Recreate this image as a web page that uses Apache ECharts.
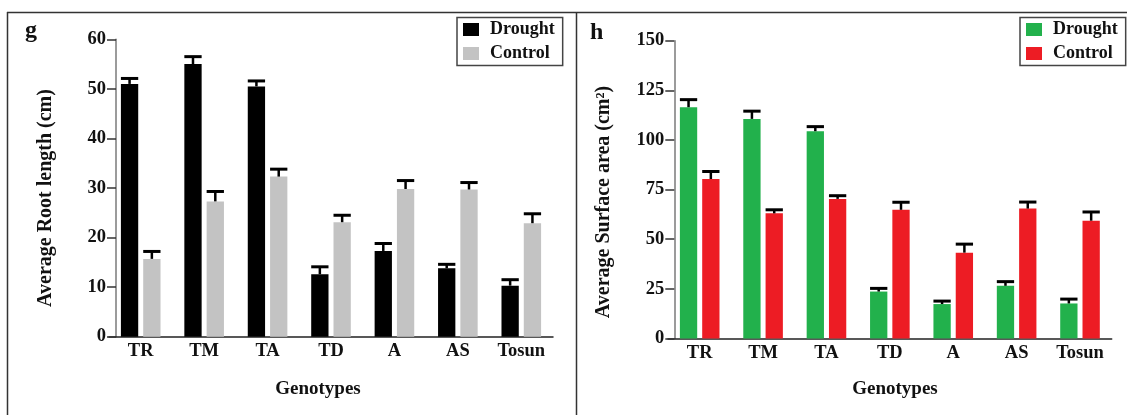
<!DOCTYPE html>
<html>
<head>
<meta charset="utf-8">
<script src="https://cdn.jsdelivr.net/npm/echarts@6/dist/echarts.min.js"></script>
<style>
html,body{margin:0;padding:0;background:#fff;}
#chart{width:1127px;height:415px;}
</style>
</head>
<body>
<div id="chart"></div>
<script>
// ---- data ----
const categories = ['TR', 'TM', 'TA', 'TD', 'A', 'AS', 'Tosun'];
const seriesNames = ['Drought', 'Control'];

// panel g: Average Root length (cm)
const rootDrought    = [51.0, 55.0, 50.5, 12.6, 17.3, 13.8, 10.3];
const rootDroughtErr = [1.1, 1.5, 1.1, 1.5, 1.5, 0.8, 1.2];
const rootControl    = [15.7, 27.3, 32.3, 23.1, 29.8, 29.7, 22.9];
const rootControlErr = [1.5, 2.0, 1.5, 1.4, 1.7, 1.4, 1.9];

// panel h: Average Surface area (cm2)
const areaDrought    = [116.5, 110.6, 104.4, 23.6, 17.3, 26.5, 17.6];
const areaDroughtErr = [3.8, 3.9, 2.3, 1.6, 1.5, 2.1, 2.2];
const areaControl    = [80.3, 63.0, 70.3, 64.8, 43.2, 65.4, 59.3];
const areaControlErr = [3.8, 1.8, 1.6, 3.8, 4.3, 3.3, 4.4];

const rootTicks = [0, 10, 20, 30, 40, 50, 60];
const areaTicks = [0, 25, 50, 75, 100, 125, 150];

// ---- styling ----
const FONT = '"Liberation Serif", "Times New Roman", serif';
const BAR_W = 17.3;
const GAP = 5;
const OFF = (BAR_W + GAP) / 2;

function errSeries(values, errs, offset, xi) {
  return {
    type: 'custom',
    name: 'err' + xi + offset,
    xAxisIndex: xi, yAxisIndex: xi,
    z: 5,
    silent: true,
    data: categories.map((c, i) => [i, values[i], errs[i]]),
    encode: { x: 0, y: 1 },
    renderItem: function (params, api) {
      const i = api.value(0), v = api.value(1), e = api.value(2);
      const b = api.coord([i, v]);
      const t = api.coord([i, v + e]);
      const cx = b[0] + offset;
      return {
        type: 'group',
        children: [
          { type: 'line', shape: { x1: cx, y1: b[1], x2: cx, y2: t[1] }, style: { stroke: '#000', lineWidth: 2.5 } },
          { type: 'line', shape: { x1: cx - BAR_W / 2, y1: t[1], x2: cx + BAR_W / 2, y2: t[1] }, style: { stroke: '#000', lineWidth: 3 } }
        ]
      };
    }
  };
}

function xAxisCfg(gi) {
  return {
    type: 'category', gridIndex: gi, data: categories,
    axisLine: { lineStyle: { color: '#222', width: 1.5 } },
    axisTick: { show: false },
    axisLabel: { fontFamily: FONT, fontWeight: 'bold', fontSize: 18.5, color: '#111', margin: 5 }
  };
}
function yAxisCfg(gi, ticks, offset) {
  return {
    type: 'value', gridIndex: gi,
    min: ticks[0], max: ticks[ticks.length - 1], interval: ticks[1] - ticks[0],
    offset: offset,
    axisLine: { show: true, lineStyle: { color: '#7a7a7a', width: 1.5 } },
    axisTick: { show: true, length: 9, lineStyle: { color: '#333', width: 1.5 } },
    splitLine: { show: false },
    axisLabel: { fontFamily: FONT, fontWeight: 'bold', fontSize: 18.5, color: '#111', margin: 10 }
  };
}
function legendCfg(left, colors) {
  return {
    left: left, top: 17.5, orient: 'vertical',
    borderColor: '#444', borderWidth: 1.5, borderRadius: 0,
    padding: [3, 8, 3, 6],
    itemWidth: 16, itemHeight: 13, itemGap: 6,
    selectedMode: false,
    icon: 'rect',
    textStyle: { fontFamily: FONT, fontWeight: 'bold', fontSize: 18, color: '#111', padding: [0, 0, 0, 6] },
    data: seriesNames.map((n, k) => ({ name: n, itemStyle: { color: colors[k] } }))
  };
}

const chart = echarts.init(document.getElementById('chart'), null, { renderer: 'canvas' });
const option = {
  animation: false,
  backgroundColor: '#fff',
  grid: [
    { left: 109, right: 574, top: 39.3, bottom: 78.3 },
    { left: 668, right: 15.3, top: 40.7, bottom: 76.6 }
  ],
  xAxis: [xAxisCfg(0), xAxisCfg(1)],
  yAxis: [yAxisCfg(0, rootTicks, -7), yAxisCfg(1, areaTicks, -6.3)],
  legend: [
    legendCfg(457, ['#000000', '#c3c3c3']),
    legendCfg(1020, ['#22b14c', '#ed1c24'])
  ],
  series: [
    { type: 'bar', name: 'Drought', xAxisIndex: 0, yAxisIndex: 0, data: rootDrought, barWidth: BAR_W, barGap: (GAP / BAR_W * 100) + '%', itemStyle: { color: '#000000' } },
    { type: 'bar', name: 'Control', xAxisIndex: 0, yAxisIndex: 0, data: rootControl, barWidth: BAR_W, itemStyle: { color: '#c3c3c3' } },
    errSeries(rootDrought, rootDroughtErr, -OFF, 0),
    errSeries(rootControl, rootControlErr, OFF, 0),
    { type: 'bar', name: 'Drought', xAxisIndex: 1, yAxisIndex: 1, data: areaDrought, barWidth: BAR_W, barGap: (GAP / BAR_W * 100) + '%', itemStyle: { color: '#22b14c' } },
    { type: 'bar', name: 'Control', xAxisIndex: 1, yAxisIndex: 1, data: areaControl, barWidth: BAR_W, itemStyle: { color: '#ed1c24' } },
    errSeries(areaDrought, areaDroughtErr, -OFF, 1),
    errSeries(areaControl, areaControlErr, OFF, 1)
  ],
  graphic: [
    { type: 'line', shape: { x1: 7, y1: 12.5, x2: 1127, y2: 12.5 }, style: { stroke: '#333', lineWidth: 1.5 } },
    { type: 'line', shape: { x1: 7.5, y1: 12, x2: 7.5, y2: 415 }, style: { stroke: '#333', lineWidth: 1.5 } },
    { type: 'line', shape: { x1: 576.5, y1: 12, x2: 576.5, y2: 415 }, style: { stroke: '#333', lineWidth: 1.5 } },
    { type: 'text', x: 25, y: 19, style: { text: 'g', font: 'bold 24px ' + FONT, fill: '#111', textAlign: 'left', textVerticalAlign: 'top', align: 'left', verticalAlign: 'top' } },
    { type: 'text', x: 590, y: 21, style: { text: 'h', font: 'bold 24px ' + FONT, fill: '#111', textAlign: 'left', textVerticalAlign: 'top', align: 'left', verticalAlign: 'top' } },
    { type: 'text', x: 318, y: 389, style: { text: 'Genotypes', font: 'bold 19px ' + FONT, fill: '#111', textAlign: 'center', textVerticalAlign: 'middle', align: 'center', verticalAlign: 'middle' } },
    { type: 'text', x: 895, y: 389, style: { text: 'Genotypes', font: 'bold 19px ' + FONT, fill: '#111', textAlign: 'center', textVerticalAlign: 'middle', align: 'center', verticalAlign: 'middle' } },
    { type: 'text', x: 45.5, y: 198, rotation: Math.PI / 2, style: { text: 'Average Root length (cm)', font: 'bold 20px ' + FONT, fill: '#111', textAlign: 'center', textVerticalAlign: 'middle', align: 'center', verticalAlign: 'middle' } },
    { type: 'text', x: 604, y: 202, rotation: Math.PI / 2, style: { text: 'Average Surface area (cm²)', font: 'bold 20px ' + FONT, fill: '#111', textAlign: 'center', textVerticalAlign: 'middle', align: 'center', verticalAlign: 'middle' } }
  ]
};
chart.setOption(option);
</script>
</body>
</html>
